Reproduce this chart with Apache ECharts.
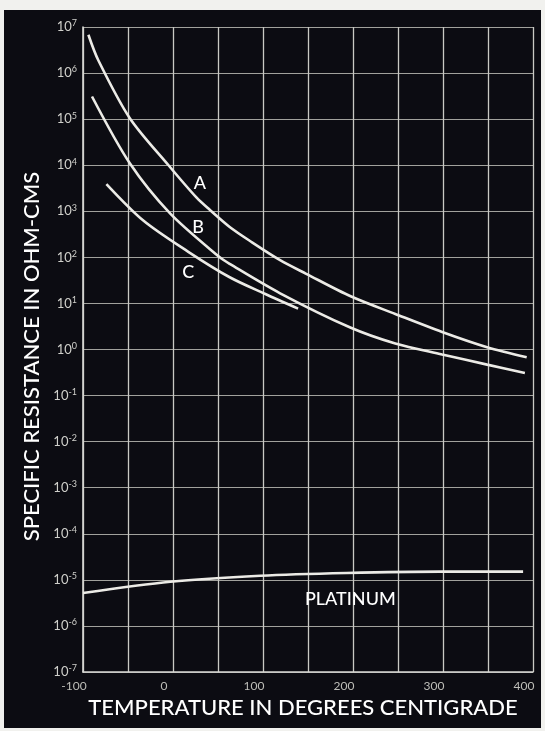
<!DOCTYPE html>
<html><head><meta charset="utf-8">
<script src="https://cdn.jsdelivr.net/npm/echarts@6/dist/echarts.min.js"></script>
<style>
html,body{margin:0;padding:0;background:#f1f1ee;width:545px;height:731px;overflow:hidden;}
#chart{position:absolute;left:4px;top:10px;width:537px;height:718px;}
</style></head><body><div id="chart"></div>
<script>
// Axis ticks
const xTickLabels = [-100, 0, 100, 200, 300, 400];
const yExponents = [-7,-6,-5,-4,-3,-2,-1,0,1,2,3,4,5,6,7];

// Curve A (temperature °C, specific resistance ohm-cm)
const tempA = [-94, -83, -48, -5, 26, 41, 63, 86, 119, 148, 198, 247, 299, 349, 393];
const resA  = [6.8e6, 1.9e6, 1.05e5, 1.0e4, 2.0e3, 1.07e3, 457, 224, 87, 44, 14.1, 5.9, 2.4, 1.12, 0.68];

// Curve B
const tempB = [-90, -48, -3, 52, 63, 119, 197, 247, 299, 349, 391];
const resB  = [3.1e5, 1.1e4, 890, 100, 72, 16.6, 3.0, 1.35, 0.78, 0.47, 0.31];

// Curve C
const tempC = [-74, -33, 17, 63, 102, 139];
const resC  = [3.9e3, 630, 132, 37, 16.2, 7.7];

// Platinum
const tempPt = [-100, -3, 97, 193, 297, 389];
const resPt  = [5.2e-6, 9.1e-6, 1.23e-5, 1.41e-5, 1.51e-5, 1.51e-5];

// Curve labels
const labelText = ['A', 'B', 'C', 'PLATINUM'];
const labelTemp = [30, 28, 17, 197];
const labelRes  = [4070, 447, 47, 3.9e-6];

const pair = (t, r) => t.map((v, i) => [v, r[i]]);
const FONT = 'Lato, "Noto Sans", sans-serif';
const lineColor = '#ecebe6';

const chart = echarts.init(document.getElementById('chart'), null, {renderer: 'canvas'});

function curve(name, t, r) {
  return {
    name, type: 'line', data: pair(t, r), smooth: 0.3,
    showSymbol: false, symbol: 'none',
    lineStyle: {color: lineColor, width: 2.6},
    silent: true, animation: false, z: 5
  };
}

chart.setOption({
  backgroundColor: '#0c0c12',
  animation: false,
  grid: {left: 79, right: 8, top: 17, bottom: 56, containLabel: false, outerBoundsMode: 'none'},
  xAxis: {
    type: 'value', min: -100, max: 400, interval: 50,
    name: 'TEMPERATURE IN DEGREES CENTIGRADE',
    nameLocation: 'middle', nameGap: 22,
    nameTextStyle: {color: '#ffffff', fontFamily: FONT, fontSize: 22, fontWeight: 500, padding: [0, 10, 0, 0]},
    axisLine: {show: true, onZero: false, lineStyle: {color: '#d8d8d4', width: 1.6}},
    axisTick: {show: false},
    splitLine: {show: true, lineStyle: {color: '#c9c9c4', width: 1.3}},
    axisLabel: {
      color: '#bdbdb8', fontFamily: FONT, fontSize: 12, margin: 8, padding: [0, 18, 0, 0],
      formatter: v => xTickLabels.indexOf(v) >= 0 ? String(v) : ''
    }
  },
  yAxis: {
    type: 'log', logBase: 10, min: 1e-7, max: 1e7, splitNumber: 14, interval: 1,
    name: 'SPECIFIC RESISTANCE IN OHM-CMS',
    nameLocation: 'middle', nameGap: 36,
    nameTextStyle: {color: '#ffffff', fontFamily: FONT, fontSize: 22, fontWeight: 500, padding: [0, 14, 0, 0]},
    axisLine: {show: true, onZero: false, lineStyle: {color: '#d8d8d4', width: 1.6}},
    axisTick: {show: false},
    splitLine: {show: true, lineStyle: {color: '#a2a29d', width: 1.1}},
    axisLabel: {
      margin: 6, fontFamily: FONT,
      formatter: v => {
        const e = Math.round(Math.log10(v));
        return yExponents.indexOf(e) >= 0 ? '{b|10}{s|' + e + '}' : '';
      },
      rich: {
        b: {color: '#d0d0cb', fontSize: 13, fontFamily: FONT, lineHeight: 16},
        s: {color: '#d0d0cb', fontSize: 9, fontFamily: FONT, verticalAlign: 'top', lineHeight: 16, padding: [0, 0, 6, 0]}
      }
    }
  },
  series: [
    curve('A', tempA, resA),
    curve('B', tempB, resB),
    curve('C', tempC, resC),
    curve('Platinum', tempPt, resPt),
    {
      type: 'scatter', silent: true, z: 6,
      data: labelTemp.map((t, i) => [t, labelRes[i], labelText[i]]),
      symbolSize: 2, itemStyle: {color: 'rgba(0,0,0,0)'},
      label: {
        show: true, position: 'inside', color: '#ffffff', fontFamily: FONT,
        fontSize: 18, fontWeight: 500, opacity: 1,
        formatter: p => p.data[2]
      }
    }
  ]
});
</script></body></html>
